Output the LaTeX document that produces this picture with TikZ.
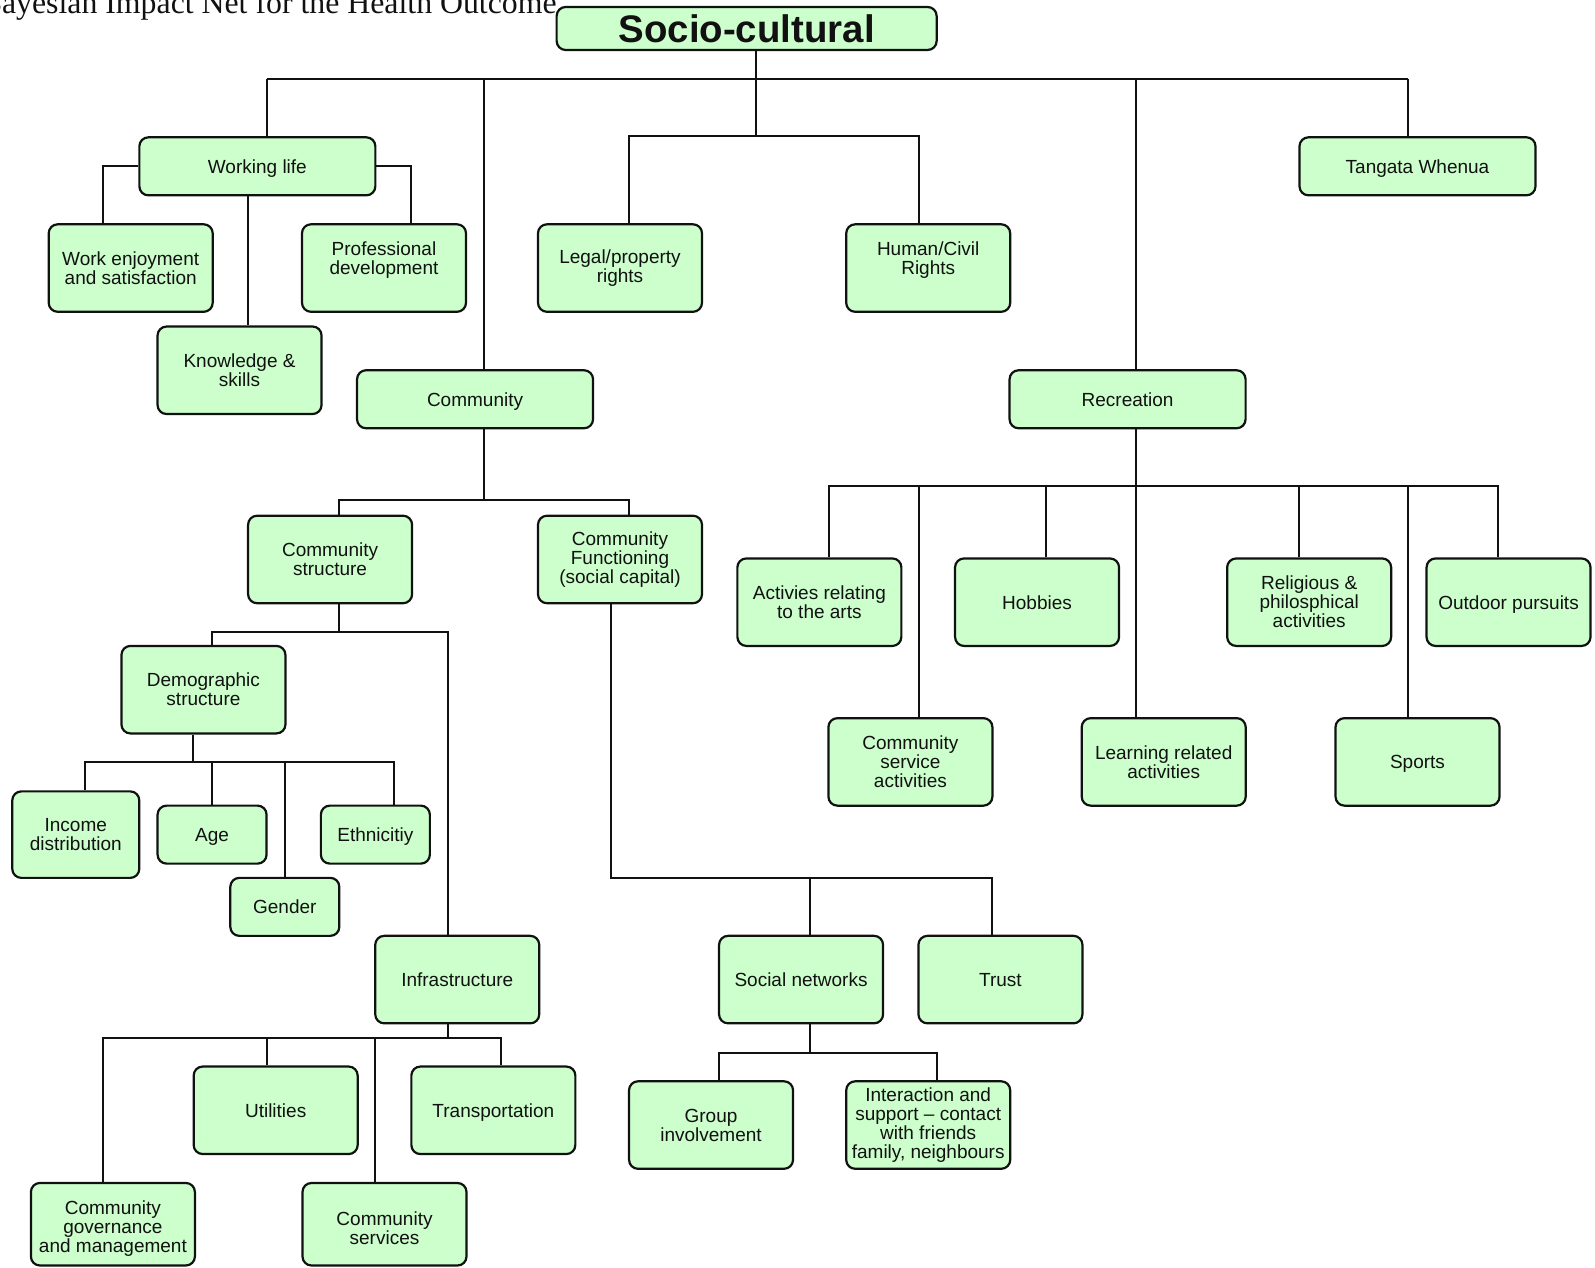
\documentclass[tikz,border=0pt]{standalone}
\usepackage{fontspec}
\setmainfont{Liberation Sans}
\newfontfamily\captionfont{Liberation Serif}
\usepackage{xcolor}
\definecolor{boxfill}{HTML}{CCFFCC}
\definecolor{boxink}{HTML}{111111}

\begin{document}
\begin{tikzpicture}[
  x=1.0172pt,
  y=-1.0172pt,
  every node/.style={text=boxink},
  box/.style={draw=boxink, fill=boxfill, line width=2.2pt, rounded corners=9pt,
    align=center, inner sep=0pt, minimum width=164pt, minimum height=87.5pt,
    font=\fontsize{19}{19}\selectfont},
  oneline/.style={box, text height=18pt, text depth=4pt},
  widebox/.style={oneline, minimum width=236pt, minimum height=58pt},
  smallbox/.style={oneline, minimum width=109pt, minimum height=58pt},
  link/.style={boxink, line width=2pt}
]
  % ---- page frame, same proportions as the reference ----
  \useasboundingbox (0,0) rectangle (1568,1246);

  % ---- caption, cut by the top edge of the page ----
  \node[anchor=base west, inner sep=0pt, font=\captionfont\fontsize{31.8}{32}\selectfont]
    (caption) at (-19,13.6) {Bayesian Impact Net for the Health Outcome};

  % ---- root ----
  \node[box, minimum width=380pt, minimum height=43pt,
    font=\fontsize{38.4}{38}\selectfont\bfseries] (root) at (734,28) {Socio-cultural};

  % ---- first level ----
  \node[widebox] (work) at (253,163.5) {Working life};
  \node[widebox] (tangata) at (1393.5,163.5) {Tangata Whenua};
  \node[box] (legal) at (609.5,263.5) {Legal/property\\rights};
  \node[box] (human) at (912.5,263.5) {Human/Civil\\Rights\\\mbox{}};
  \node[widebox] (community) at (467,392.5) {Community};
  \node[widebox] (recreation) at (1108.5,392.5) {Recreation};

  % ---- working life ----
  \node[box] (enjoy) at (128.5,263.5) {Work enjoyment\\and satisfaction};
  \node[box] (profdev) at (377.5,263.5) {Professional\\development\\\mbox{}};
  \node[box] (knowledge) at (235.5,364) {Knowledge \&\\skills};

  % ---- community ----
  \node[box] (structure) at (324.5,550) {Community\\structure};
  \node[box] (functioning) at (609.5,550) {Community\\Functioning\\(social capital)};
  \node[box] (demographic) at (200,678) {Demographic\\structure};
  \node[box, minimum width=127pt, minimum height=86.5pt] (income) at (74.5,820.5)
    {Income\\distribution};
  \node[smallbox] (age) at (208.5,820.5) {Age};
  \node[smallbox] (ethnicity) at (369,820.5) {Ethnicitiy};
  \node[smallbox] (gender) at (280,891.5) {Gender};
  \node[oneline] (infra) at (449.5,963) {Infrastructure};
  \node[oneline] (utilities) at (271,1091.5) {Utilities};
  \node[oneline] (transport) at (485,1091.5) {Transportation};
  % bottom row sits on the page edge, text a little below the box centre
  \node[box, minimum height=82.5pt] (governance) at (111,1203.5)
    {\rule{0pt}{22pt}Community\\governance\\and management};
  \node[box, minimum height=82.5pt] (services) at (378,1203.5)
    {\rule{0pt}{22pt}Community\\services};
  \node[oneline] (networks) at (787.5,963) {Social networks};
  \node[oneline] (trust) at (983.5,963) {Trust};
  \node[box] (group) at (699,1106) {Group\\involvement};
  \node[box] (support) at (912.5,1106)
    {Interaction and\\support – contact\\with friends\\family, neighbours};

  % ---- recreation ----
  \node[box] (arts) at (805.5,592) {Activies relating\\to the arts};
  \node[oneline] (hobbies) at (1019.5,592) {Hobbies};
  \node[box] (religious) at (1287,592) {Religious \&\\philosphical\\activities};
  \node[oneline] (outdoor) at (1483,592) {Outdoor pursuits};
  \node[box] (servact) at (895,749) {Community\\service\\activities};
  \node[box] (learning) at (1144,749) {Learning related\\activities};
  \node[oneline] (sports) at (1393.5,749) {Sports};

  % ---- root to first level ----
  \draw[link] (root.south -| 743,0) -- (743,134);
  \draw[link] (262,78) -- (1384,78);
  \draw[link] (262,78) -- (work.north -| 262,0);
  \draw[link] (476,78) -- (community.north -| 476,0);
  \draw[link] (1117,78) -- (recreation.north -| 1117,0);
  \draw[link] (1384,78) -- (tangata.north -| 1384,0);
  \draw[link] (legal.north -| 618,0) |- (903,134) -- (human.north -| 903,0);

  % ---- working life ----
  \draw[link] (work.west) -| (enjoy.north -| 101,0);
  \draw[link] (work.east) -| (profdev.north -| 404,0);
  \draw[link] (work.south -| 244,0) -- (knowledge.north -| 244,0);

  % ---- community ----
  \draw[link] (community.south -| 476,0) -- (476,492);
  \draw[link] (structure.north -| 333,0) |- (618,492) -- (functioning.north -| 618,0);
  \draw[link] (structure.south -| 333,0) -- (333,621);
  \draw[link] (demographic.north -| 208,0) |- (440,621) -- (infra.north -| 440,0);

  % ---- demographic structure ----
  \draw[link] (demographic.south -| 190,0) -- (190,749);
  \draw[link] (income.north -| 84,0) |- (387,749) -- (ethnicity.north -| 387,0);
  \draw[link] (208,749) -- (age.north -| 208,0);
  \draw[link] (280,749) -- (gender.north -| 280,0);

  % ---- infrastructure ----
  \draw[link] (infra.south -| 440,0) -- (440,1020);
  \draw[link] (governance.north -| 101,0) |- (493,1020) -- (transport.north -| 493,0);
  \draw[link] (262,1020) -- (utilities.north -| 262,0);
  \draw[link] (369,1020) -- (services.north -| 369,0);

  % ---- community functioning ----
  \draw[link] (functioning.south -| 601,0) |- (975,863) -- (trust.north -| 975,0);
  \draw[link] (796,863) -- (networks.north -| 796,0);
  \draw[link] (networks.south -| 796,0) -- (796,1035);
  \draw[link] (group.north -| 707,0) |- (921,1035) -- (support.north -| 921,0);

  % ---- recreation ----
  \draw[link] (recreation.south -| 1117,0) -- (1117,478);
  \draw[link] (arts.north -| 815,0) |- (1473,478) -- (outdoor.north -| 1473,0);
  \draw[link] (903,478) -- (servact.north -| 903,0);
  \draw[link] (1028,478) -- (hobbies.north -| 1028,0);
  \draw[link] (1117,478) -- (learning.north -| 1117,0);
  \draw[link] (1277,478) -- (religious.north -| 1277,0);
  \draw[link] (1384,478) -- (sports.north -| 1384,0);
\end{tikzpicture}
\end{document}
